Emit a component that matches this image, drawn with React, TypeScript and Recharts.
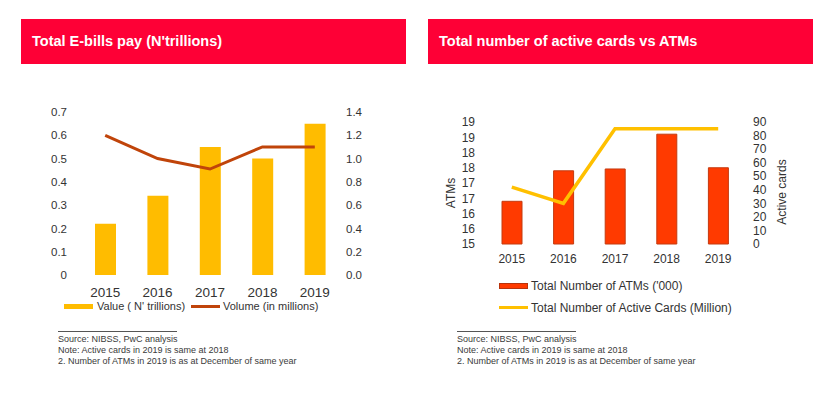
import React from 'react';
import { ComposedChart, Bar, Line, XAxis, YAxis } from 'recharts';

const years = ['2015', '2016', '2017', '2018', '2019'];
const ebillValue = [0.22, 0.34, 0.55, 0.5, 0.65];
const ebillVolume = [1.2, 1.0, 0.91, 1.1, 1.1];
const atms = [16.4, 17.4, 17.46, 18.6, 17.5];
const activeCards = [42, 30, 85, 85, 85];

const leftTicks = [0, 0.1, 0.2, 0.3, 0.4, 0.5, 0.6, 0.7];
const rightTicks = [0, 0.2, 0.4, 0.6, 0.8, 1.0, 1.2, 1.4];
const atmTicks = [15, 15.5, 16, 16.5, 17, 17.5, 18, 18.5, 19];
const cardTicks = [0, 10, 20, 30, 40, 50, 60, 70, 80, 90];

const titles = ['Total E-bills pay (N\'trillions)', 'Total number of active cards vs ATMs'];
const notes = [
  'Source: NIBSS, PwC analysis',
  'Note: Active cards in 2019 is same at 2018',
  '2. Number of ATMs in 2019 is as at December of same year',
];

const ebillData = years.map((y, i) => ({ year: y, value: ebillValue[i], volume: ebillVolume[i] }));
const atmData = years.map((y, i) => ({ year: y, atms: atms[i], cards: activeCards[i] }));

const FONT = '"Liberation Sans", Arial, Helvetica, sans-serif';
const RED = '#fe0036';

const Header = ({ left, text }: { left: number; text: string }) => (
  <div
    style={{
      position: 'absolute', left, top: 19, width: 385, height: 45, background: RED,
      color: '#fff', fontWeight: 700, fontSize: 14.5, lineHeight: '45px', paddingLeft: 11,
      boxSizing: 'border-box', fontFamily: FONT,
    }}
  >
    {text}
  </div>
);

const Notes = ({ left }: { left: number }) => (
  <div style={{ position: 'absolute', left, top: 331, fontFamily: FONT, color: '#3a3a3a', fontSize: 9 }}>
    <div style={{ width: 119, borderTop: '1px solid #555', height: 2 }} />
    {notes.map((n) => (
      <div key={n} style={{ lineHeight: '11px', whiteSpace: 'nowrap' }}>{n}</div>
    ))}
  </div>
);

export default function App() {
  const tickStyle = { fill: '#333', fontFamily: FONT };
  return (
    <div style={{ position: 'absolute', left: 0, top: 0, width: 835, height: 398, background: '#fff', fontFamily: FONT }}>
      <Header left={21} text={titles[0]} />
      <Header left={428} text={titles[1]} />

      <div style={{ position: 'absolute', left: 0, top: 0 }}>
        <ComposedChart width={420} height={398} data={ebillData} margin={{ top: 112, left: 0, right: 0, bottom: 93 }}>
          <XAxis dataKey="year" axisLine={false} tickLine={false} tickSize={0} tickMargin={12} height={30}
            tick={{ ...tickStyle, fontSize: 13.5 }} interval={0} />
          <YAxis yAxisId="l" orientation="left" width={79} domain={[0, 0.7]} ticks={leftTicks} axisLine={false}
            tickLine={false} tickSize={0} tickMargin={12} tick={{ ...tickStyle, fontSize: 11.5 }}
            tickFormatter={(v: number) => (v === 0 ? '0' : String(v))} interval={0} />
          <YAxis yAxisId="r" orientation="right" width={79} domain={[0, 1.4]} ticks={rightTicks} axisLine={false}
            tickLine={false} tickSize={0} tickMargin={5} tick={{ ...tickStyle, fontSize: 11.5 }}
            tickFormatter={(v: number) => v.toFixed(1)} interval={0} />
          <Bar yAxisId="l" dataKey="value" fill="#ffbc00" barSize={21} isAnimationActive={false} />
          <Line yAxisId="r" dataKey="volume" stroke="#c0440a" strokeWidth={3} dot={false} isAnimationActive={false} />
        </ComposedChart>
      </div>

      <div style={{ position: 'absolute', left: 420, top: 0 }}>
        <ComposedChart width={415} height={398} data={atmData} margin={{ top: 122, left: 0, right: 0, bottom: 124 }}>
          <XAxis dataKey="year" axisLine={false} tickLine={false} tickSize={0} tickMargin={10} height={30}
            tick={{ ...tickStyle, fontSize: 12 }} interval={0} />
          <YAxis yAxisId="l" orientation="left" width={66} domain={[15, 19]} ticks={atmTicks} axisLine={false}
            tickLine={false} tickSize={0} tickMargin={11} tick={{ ...tickStyle, fontSize: 12 }}
            tickFormatter={(v: number) => String(Math.round(v))} interval={0} />
          <YAxis yAxisId="r" orientation="right" width={91} domain={[0, 90]} ticks={cardTicks} axisLine={false}
            tickLine={false} tickSize={0} tickMargin={9} tick={{ ...tickStyle, fontSize: 12 }} interval={0} />
          <Bar yAxisId="l" dataKey="atms" fill="#ff3a00" stroke="#c43a0f" strokeWidth={1} barSize={20} isAnimationActive={false} />
          <Line yAxisId="r" dataKey="cards" stroke="#ffc000" strokeWidth={3.5} dot={false} isAnimationActive={false} />
        </ComposedChart>
      </div>

      <div style={{ position: 'absolute', left: 451, top: 193, transform: 'translate(-50%,-50%) rotate(-90deg)', fontSize: 12, color: '#333', whiteSpace: 'nowrap' }}>ATMs</div>
      <div style={{ position: 'absolute', left: 782, top: 192, transform: 'translate(-50%,-50%) rotate(-90deg)', fontSize: 12, color: '#333', whiteSpace: 'nowrap' }}>Active cards</div>

      {/* Left legend */}
      <div style={{ position: 'absolute', left: 64, top: 304, width: 29, height: 5, background: '#ffbc00' }} />
      <div style={{ position: 'absolute', left: 97, top: 299, fontSize: 11, color: '#333', lineHeight: '14px', whiteSpace: 'nowrap' }}>Value ( N' trillions)</div>
      <div style={{ position: 'absolute', left: 191, top: 305, width: 29, height: 3, background: '#c0440a' }} />
      <div style={{ position: 'absolute', left: 223, top: 299, fontSize: 11, color: '#333', lineHeight: '14px', whiteSpace: 'nowrap' }}>Volume (in millions)</div>

      {/* Right legend */}
      <div style={{ position: 'absolute', left: 499, top: 283, width: 29, height: 6, background: '#ff3a00', border: '1px solid #b8330c', boxSizing: 'border-box' }} />
      <div style={{ position: 'absolute', left: 531, top: 279, fontSize: 12, color: '#333', lineHeight: '14px', whiteSpace: 'nowrap' }}>Total Number of ATMs ('000)</div>
      <div style={{ position: 'absolute', left: 499, top: 306, width: 29, height: 3, background: '#ffc000' }} />
      <div style={{ position: 'absolute', left: 531, top: 301, fontSize: 12, color: '#333', lineHeight: '14px', whiteSpace: 'nowrap' }}>Total Number of Active Cards (Million)</div>

      <Notes left={58} />
      <Notes left={457} />
    </div>
  );
}
